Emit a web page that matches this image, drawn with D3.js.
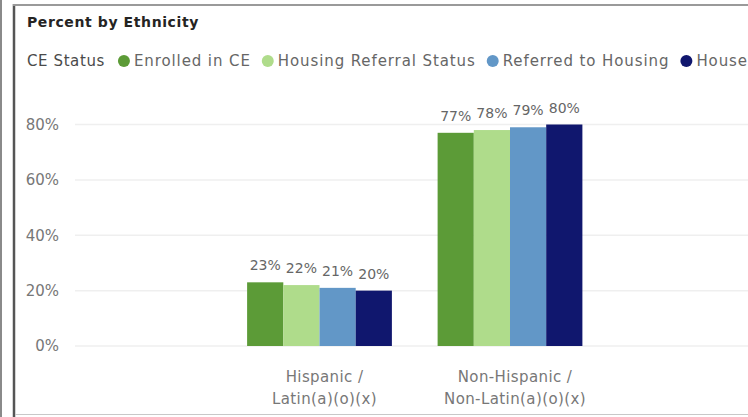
<!DOCTYPE html>
<html>
<head>
<meta charset="utf-8">
<script src="https://cdn.jsdelivr.net/npm/d3@7/dist/d3.min.js"></script>
<style>
  html, body { margin: 0; padding: 0; background: #fff; overflow: hidden; }
  svg { display: block; }
  text { font-family: "DejaVu Sans", "Open Sans", sans-serif; }
</style>
</head>
<body>
<svg id="chart" width="748" height="417"></svg>
<script>
const title = "Percent by Ethnicity";
const legendTitle = "CE Status";
const categories = [["Hispanic /", "Latin(a)(o)(x)"], ["Non-Hispanic /", "Non-Latin(a)(o)(x)"]];
const seriesNames = ["Enrolled in CE", "Housing Referral Status", "Referred to Housing", "Housed"];
const seriesColors = ["#5c9b37", "#afdc8b", "#6297c7", "#10176e"];
const enrolled = [23, 77];
const housingReferral = [22, 78];
const referred = [21, 79];
const housed = [20, 80];
const yTicks = [0, 20, 40, 60, 80];

const seriesValues = [enrolled, housingReferral, referred, housed];
const svg = d3.select("#chart");

// frame
svg.append("line").attr("x1", 1).attr("x2", 1).attr("y1", 0).attr("y2", 417)
  .attr("stroke", "#8a8a8a").attr("stroke-width", 2);
svg.append("line").attr("x1", 14).attr("x2", 14).attr("y1", 4).attr("y2", 417)
  .attr("stroke", "#555", ).attr("stroke-width", 2.5);
svg.append("line").attr("x1", 13).attr("x2", 748).attr("y1", 5).attr("y2", 5)
  .attr("stroke", "#9a9a9a").attr("stroke-width", 2);
svg.append("line").attr("x1", 15).attr("x2", 748).attr("y1", 414.5).attr("y2", 414.5)
  .attr("stroke", "#c8c8c8").attr("stroke-width", 1);

// title
svg.append("text").attr("x", 27).attr("y", 26.5).text(title)
  .attr("font-size", 14).attr("font-weight", "bold").attr("letter-spacing", 0.6)
  .attr("fill", "#252423");

// legend
const lg = svg.append("g");
let lx = 27;
const ly = 61;
const lt = lg.append("text").attr("x", lx).attr("y", ly).attr("dy", "0.35em")
  .attr("font-size", 15).attr("letter-spacing", 0.6).attr("fill", "#4a4a4a").text(legendTitle);
lx += lt.node().getComputedTextLength() + 19;
seriesNames.forEach((name, i) => {
  lg.append("circle").attr("cx", lx).attr("cy", ly).attr("r", 6).attr("fill", seriesColors[i]);
  const t = lg.append("text").attr("x", lx + 10).attr("y", ly).attr("dy", "0.35em")
    .attr("font-size", 15).attr("letter-spacing", 0.9).attr("fill", "#666").text(name);
  lx += 10 + t.node().getComputedTextLength() + 17;
});

// scales
const y = d3.scaleLinear().domain([0, 80]).range([346, 124.5]);
const x0 = d3.scaleBand().domain(categories.map((c, i) => i)).range([224.25, 605.25])
  .paddingInner(0.24).paddingOuter(0.12);
const x1 = d3.scaleBand().domain(seriesNames.map((s, i) => i)).range([0, x0.bandwidth()]);

// gridlines + y axis
svg.append("g").selectAll("line").data(yTicks).join("line")
  .attr("x1", 75).attr("x2", 748).attr("y1", d => y(d)).attr("y2", d => y(d))
  .attr("stroke", "#efefef").attr("stroke-width", 1.5);
const yAxis = d3.axisLeft(y).tickValues(yTicks).tickFormat(d => d + "%").tickSize(0).tickPadding(16);
const gy = svg.append("g").attr("transform", "translate(75,0)").call(yAxis);
gy.select(".domain").remove();
gy.selectAll("text").attr("font-size", 15).attr("fill", "#777").attr("font-family", "DejaVu Sans, sans-serif");

// bars
const groups = svg.append("g").selectAll("g").data(categories).join("g")
  .attr("transform", (d, i) => `translate(${x0(i)},0)`);
groups.each(function(c, ci) {
  const g = d3.select(this);
  seriesValues.forEach((vals, si) => {
    const v = vals[ci];
    g.append("rect").attr("x", x1(si)).attr("width", x1.bandwidth())
      .attr("y", y(v)).attr("height", y(0) - y(v)).attr("fill", seriesColors[si]);
    g.append("text").attr("x", x1(si) + x1.bandwidth() / 2).attr("y", y(v) - 12)
      .attr("text-anchor", "middle").attr("font-size", 14).attr("fill", "#666")
      .text(v + "%");
  });
});

// x axis labels
const xAxis = d3.axisBottom(x0).tickSize(0).tickFormat("");
const gx = svg.append("g").attr("transform", `translate(0,${y(0)})`).call(xAxis);
gx.select(".domain").remove();
gx.selectAll(".tick").each(function(d) {
  const t = d3.select(this).append("text").attr("text-anchor", "middle")
    .attr("font-size", 15).attr("letter-spacing", 0.4).attr("fill", "#777");
  categories[d].forEach((line, li) => {
    t.append("tspan").attr("x", 5).attr("y", 36 + li * 22).text(line);
  });
});
</script>
</body>
</html>
